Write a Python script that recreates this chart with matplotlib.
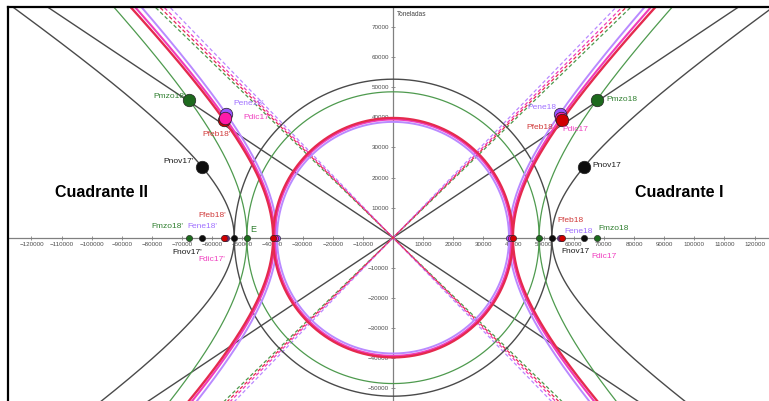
import numpy as np
import matplotlib
matplotlib.use("Agg")
import matplotlib.pyplot as plt
from matplotlib.lines import Line2D

plt.rcParams["font.family"] = ["Liberation Sans", "DejaVu Sans"]

# hiperbolas por mes: semieje real a y distancia focal c (toneladas)
meses = ["nov17", "dic17", "ene18", "feb18", "mzo18"]
semieje_a = [52700, 39300, 38500, 39800, 48500]
dist_focal = [63400, 55800, 55400, 56000, 67600]

xticks = [v for v in range(-120000, 130000, 10000) if v != 0]
yticks = [v for v in range(-50000, 80000, 10000) if v != 0]

# estilos por mes (mismo orden que meses)
col_curva = ["#4a4a4a", "#f03cbc", "#b98aff", "#e52a4e", "#4e9a4e"]
col_punto = ["#0d0d0d", "#ff1aa8", "#9955ff", "#d00000", "#1d6a1d"]
col_texto = ["#1a1a1a", "#f040c0", "#a070ff", "#d03a3a", "#2f7f2f"]
grosor = [1.0, 1.5, 1.4, 1.7, 0.9]
orden = [0, 4, 2, 1, 3]

# desplazamientos de etiquetas en pixeles: (dx, dy, ha)
off_P_der = {"nov17": (8, 1, "left"), "dic17": (1, -12, "left"), "ene18": (-4, 6, "right"),
             "feb18": (-9, -7, "right"), "mzo18": (10, 1, "left")}
off_P_izq = {"nov17": (-8, 5, "right"), "dic17": (18, 0, "left"), "ene18": (7, 10, "left"),
             "feb18": (-8, -14, "center"), "mzo18": (-3, 4, "right")}
off_F_der = {"nov17": (-23, -14, "left"), "dic17": (30, -19, "left"), "ene18": (4, 6, "left"),
             "feb18": (-4, 17, "left"), "mzo18": (2, 9, "left")}
off_F_izq = {"nov17": (-30, -15, "left"), "dic17": (-27, -22, "left"), "ene18": (-39, 11, "left"),
             "feb18": (-26, 22, "left"), "mzo18": (-38, 11, "left")}

fig = plt.figure(figsize=(7.69, 4.01), dpi=100)
ax = fig.add_axes([8 / 769, 0, 761 / 769, 394 / 401])
ax.set_xlim(-127800, 124800)
ax.set_ylim(-54300, 76700)

yy = np.linspace(-95000, 95000, 1200)
tt = np.linspace(0, 2 * np.pi, 720)
xa = np.array([-140000, 140000])

for i in orden:
    a = semieje_a[i]
    c = dist_focal[i]
    b = np.sqrt(c ** 2 - a ** 2)
    col = col_curva[i]
    lw = grosor[i]
    # ramas de la hiperbola
    xh = a * np.sqrt(1 + (yy / b) ** 2)
    ax.plot(xh, yy, color=col, lw=lw, zorder=3)
    ax.plot(-xh, yy, color=col, lw=lw, zorder=3)
    # circunferencia de radio a
    ax.plot(a * np.cos(tt), a * np.sin(tt), color=col, lw=lw, zorder=3)
    # asintotas
    m = b / a
    if meses[i] == "nov17":
        ax.plot(xa, m * xa, color=col, lw=lw, zorder=2)
        ax.plot(xa, -m * xa, color=col, lw=lw, zorder=2)
    else:
        ax.plot(xa, m * xa, color=col, lw=0.9, ls=(0, (3, 2)), zorder=2)
        ax.plot(xa, -m * xa, color=col, lw=0.9, ls=(0, (3, 2)), zorder=2)

for i in orden:
    a = semieje_a[i]
    c = dist_focal[i]
    b2 = c ** 2 - a ** 2
    mes = meses[i]
    pc = col_punto[i]
    tc = col_texto[i]
    # vertices y focos sobre el eje x
    ax.plot([-a, a], [0, 0], "o", ms=4.5, color=pc, mec="#222222", mew=0.4, zorder=5)
    ax.plot([-c, c], [0, 0], "o", ms=4.5, color=pc, mec="#222222", mew=0.4, zorder=5)
    # extremos del lado recto (a la izquierda dic17 queda encima de feb18)
    z_izq = 6.5 if mes == "dic17" else 6
    ax.plot([c], [b2 / a], "o", ms=9, color=pc, mec="#222222", mew=0.5, zorder=6)
    ax.plot([-c], [b2 / a], "o", ms=9, color=pc, mec="#222222", mew=0.5, zorder=z_izq)

    for (x0, y0, lab, off) in [(c, b2 / a, "P" + mes, off_P_der[mes]),
                               (-c, b2 / a, "P" + mes + "'", off_P_izq[mes]),
                               (c, 0, "F" + mes, off_F_der[mes]),
                               (-c, 0, "F" + mes + "'", off_F_izq[mes])]:
        ax.annotate(lab, (x0, y0), xytext=off[:2], textcoords="offset pixels",
                    ha=off[2], va="center", fontsize=6, color=tc, zorder=7)

ax.annotate("E", (-semieje_a[4], 0), xytext=(3, 8), textcoords="offset pixels",
            ha="left", va="center", fontsize=6.5, color=col_texto[4], zorder=7)

ax.text(-96600, 14860, "Cuadrante II", fontsize=11.5, fontweight="bold",
        ha="center", va="center", zorder=7)
ax.text(94900, 14860, "Cuadrante I", fontsize=11.5, fontweight="bold",
        ha="center", va="center", zorder=7)

# ejes cartesianos centrados
for s in ["top", "right"]:
    ax.spines[s].set_visible(False)
for s in ["left", "bottom"]:
    ax.spines[s].set_position(("data", 0))
    ax.spines[s].set_color("#808080")
    ax.spines[s].set_linewidth(0.9)
    ax.spines[s].set_zorder(1)
ax.set_xticks(xticks)
ax.set_yticks(yticks)
ax.set_xticklabels([f"{v}".replace("-", "\u2212") for v in xticks])
ax.set_yticklabels([f"{v}".replace("-", "\u2212") for v in yticks])
ax.tick_params(direction="inout", length=2.5, width=0.6, color="#808080",
               labelsize=4.5, labelcolor="#4d4d4d", pad=1.5)
ax.text(1200, 74300, "Toneladas", fontsize=4.7, color="#444444", ha="left", va="center")

# marco superior e izquierdo
fig.add_artist(Line2D([8 / 769, 1], [1 - 7 / 401, 1 - 7 / 401], color="black", lw=1.6,
                      transform=fig.transFigure))
fig.add_artist(Line2D([8 / 769, 8 / 769], [0, 1 - 7 / 401], color="black", lw=1.6,
                      transform=fig.transFigure))

fig.savefig("out.png", dpi=100)
